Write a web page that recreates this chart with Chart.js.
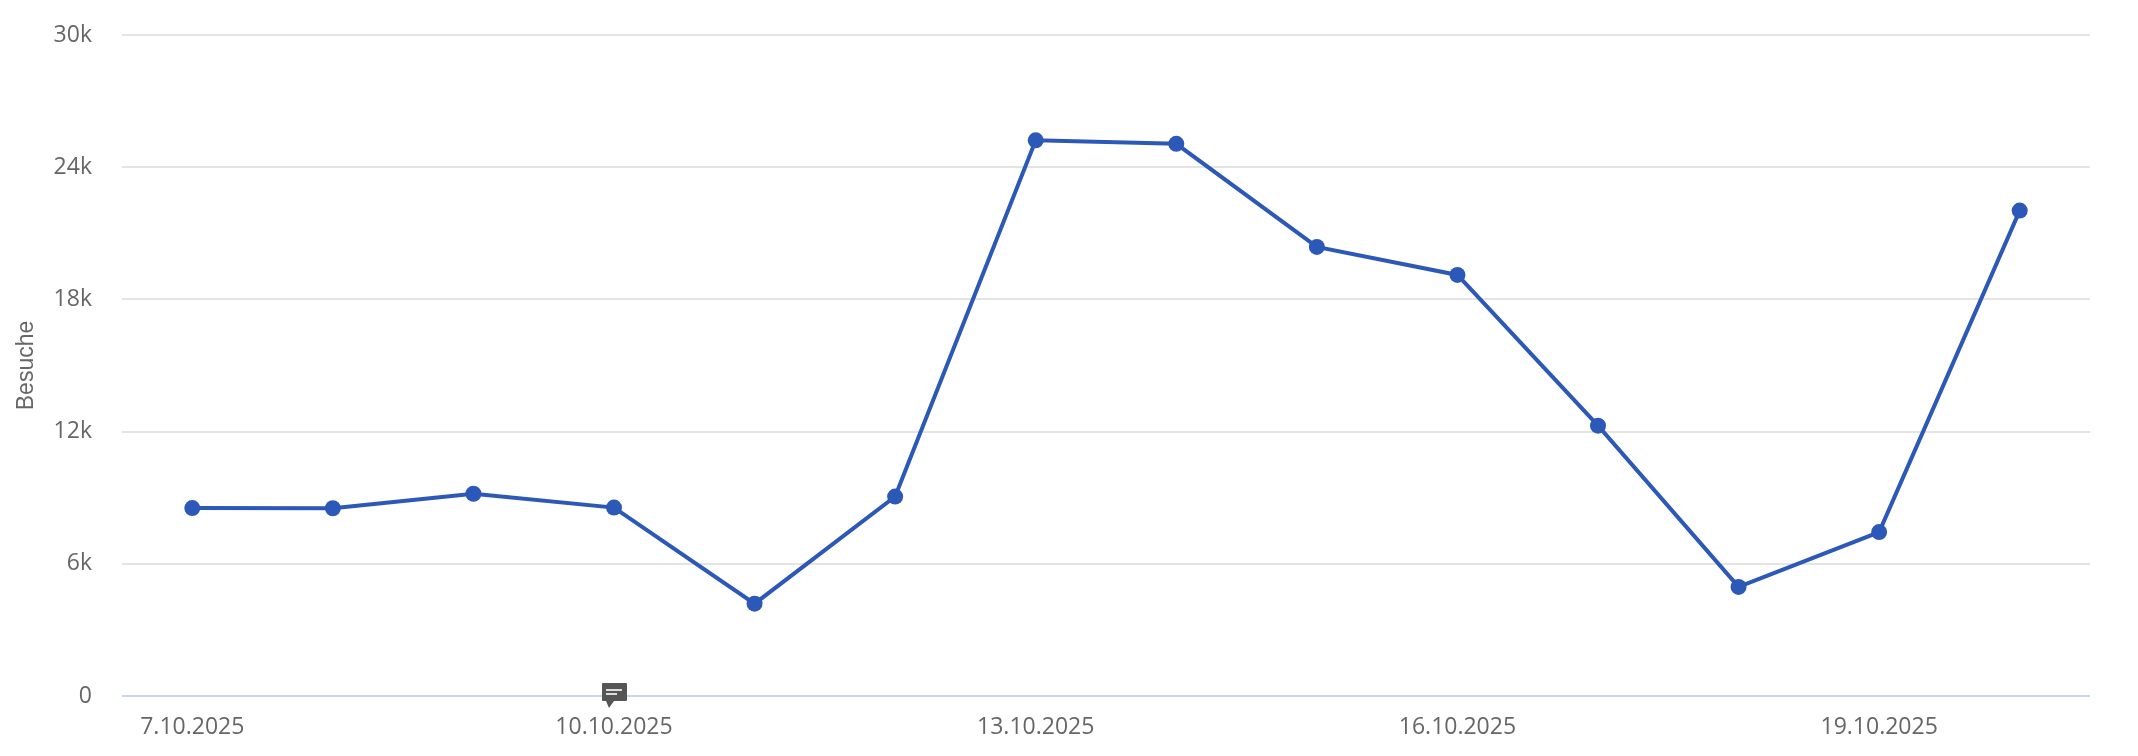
<!DOCTYPE html>
<html lang="de">
<head>
<meta charset="utf-8">
<title>Besuche</title>
<script src="https://cdn.jsdelivr.net/npm/chart.js@4"></script>
<style>
    html, body { margin: 0; padding: 0; background: #fff; }
    canvas { display: block; }
</style>
</head>
<body>
<canvas id="visitsChart" width="2138" height="756"></canvas>
<script>
// Daten
const days = ['7.10.2025', '8.10.2025', '9.10.2025', '10.10.2025', '11.10.2025', '12.10.2025', '13.10.2025',
    '14.10.2025', '15.10.2025', '16.10.2025', '17.10.2025', '18.10.2025', '19.10.2025', '20.10.2025'];
const visits = [8530, 8520, 9180, 8550, 4190, 9050, 25220, 25060, 20380, 19110, 12270, 4950, 7440, 22030];
const dayLabels = ['7.10.2025', '10.10.2025', '13.10.2025', '16.10.2025', '19.10.2025'];
const visitLabels = ['0', '6k', '12k', '18k', '24k', '30k'];
const commentDays = ['10.10.2025'];

const textColor = '#666666';
const tickFont = { family: '"Open Sans", sans-serif', size: 23 };

// Kommentar-Symbol auf der Nulllinie
const commentMarker = {
    id: 'commentMarker',
    afterDatasetsDraw(chart) {
        const { ctx, scales } = chart;
        commentDays.forEach(day => {
            const x = scales.x.getPixelForValue(day);
            const y = scales.y.getPixelForValue(0);
            ctx.save();
            ctx.fillStyle = '#555555';
            ctx.beginPath();
            ctx.roundRect(x - 12, y - 13, 25, 18, 1);
            ctx.fill();
            ctx.beginPath();
            ctx.moveTo(x - 8, y + 5);
            ctx.lineTo(x - 5, y + 12);
            ctx.lineTo(x, y + 5);
            ctx.fill();
            ctx.fillStyle = '#dddddd';
            ctx.fillRect(x - 8, y - 7, 16, 2);
            ctx.fillRect(x - 8, y - 3, 11, 2);
            ctx.restore();
        });
    }
};

new Chart(document.getElementById('visitsChart').getContext('2d'), {
    type: 'line',
    data: {
        labels: days,
        datasets: [{
            label: 'Besuche',
            data: visits,
            borderColor: '#2c58b8',
            backgroundColor: '#2c58b8',
            borderWidth: 4,
            pointRadius: 8,
            pointBorderWidth: 0,
            tension: 0
        }]
    },
    options: {
        responsive: false,
        animation: false,
        layout: { padding: { top: 35, right: 48, bottom: 0, left: 0 } },
        plugins: { legend: { display: false }, tooltip: { enabled: false } },
        scales: {
            x: {
                offset: true,
                afterFit(scale) { scale.height = 60; },
                grid: { display: false },
                border: { display: false },
                ticks: {
                    autoSkip: false,
                    maxRotation: 0,
                    color: textColor,
                    font: tickFont,
                    padding: 10,
                    callback(value) {
                        const label = this.getLabelForValue(value);
                        return dayLabels.includes(label) ? label : '';
                    }
                }
            },
            y: {
                min: 0,
                max: 30000,
                afterFit(scale) {
                    scale.width = 122;
                    scale.paddingTop = 0;
                    scale.paddingBottom = 0;
                },
                border: { display: false },
                grid: {
                    drawTicks: false,
                    lineWidth: 2,
                    color: ctx => (ctx.tick.value === 0 ? '#c9d5e9' : '#e4e4e4')
                },
                title: {
                    display: true,
                    text: 'Besuche',
                    color: textColor,
                    font: { family: '"Liberation Sans", sans-serif', size: 23 },
                    padding: { top: 13, bottom: 0 }
                },
                ticks: {
                    stepSize: 6000,
                    color: textColor,
                    font: tickFont,
                    padding: 30,
                    callback(value, index) { return visitLabels[index]; }
                }
            }
        }
    },
    plugins: [commentMarker]
});
</script>
</body>
</html>
